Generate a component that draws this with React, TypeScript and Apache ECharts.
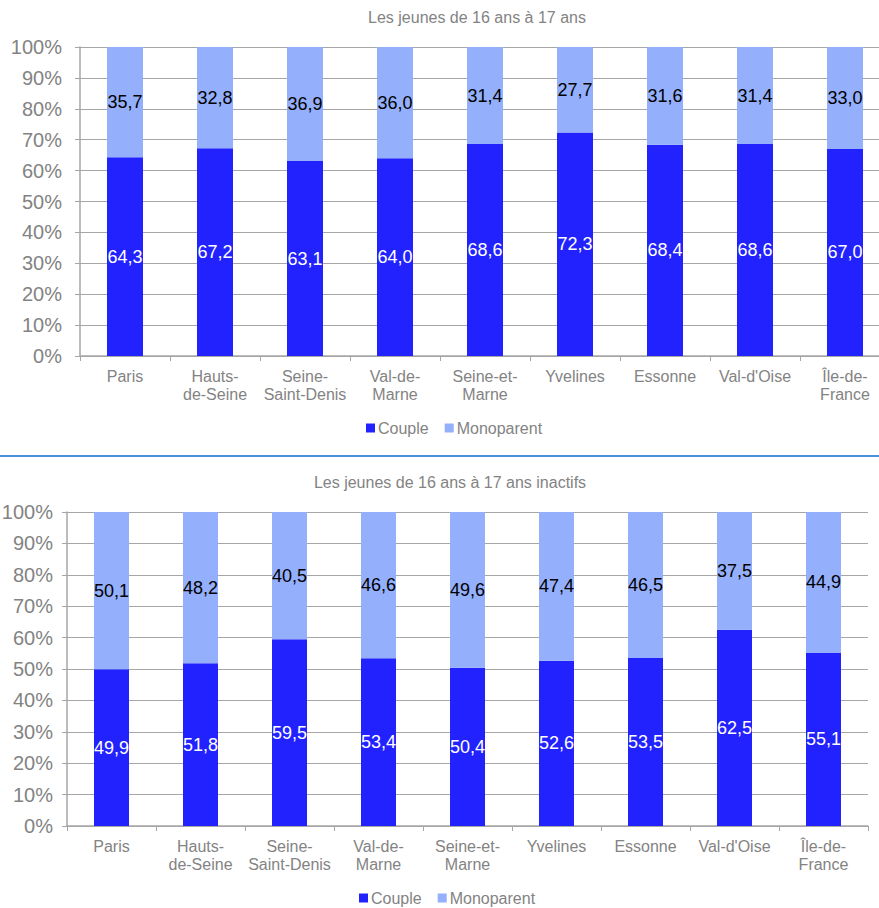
import React, { useEffect, useRef } from "react";
import * as echarts from "echarts";

const categories = [
  "Paris",
  "Hauts-\nde-Seine",
  "Seine-\nSaint-Denis",
  "Val-de-\nMarne",
  "Seine-et-\nMarne",
  "Yvelines",
  "Essonne",
  "Val-d'Oise",
  "Île-de-\nFrance",
];
const seriesNames = ["Couple", "Monoparent"];
const title1 = "Les jeunes de 16 ans à 17 ans";
const title2 = "Les jeunes de 16 ans à 17 ans inactifs";
const couple1 = [64.3, 67.2, 63.1, 64.0, 68.6, 72.3, 68.4, 68.6, 67.0];
const mono1 = [35.7, 32.8, 36.9, 36.0, 31.4, 27.7, 31.6, 31.4, 33.0];
const couple2 = [49.9, 51.8, 59.5, 53.4, 50.4, 52.6, 53.5, 62.5, 55.1];
const mono2 = [50.1, 48.2, 40.5, 46.6, 49.6, 47.4, 46.5, 37.5, 44.9];

const FONT = "'Liberation Sans', Arial, sans-serif";
const DARK = "#2222ff";
const LIGHT = "#94affc";
const GRAY = "#838383";
const LINE = "#a6a6a6";

const fmt = (p: any) => Number(p.value).toFixed(1).replace(".", ",");

function xAxis(gridIndex: number) {
  return {
    type: "category",
    gridIndex,
    data: categories,
    axisLine: { lineStyle: { color: LINE, width: 1.5 } },
    axisTick: { show: true, length: 5, lineStyle: { color: LINE } },
    axisLabel: {
      color: GRAY,
      fontSize: 16,
      fontFamily: FONT,
      lineHeight: 18,
      margin: 11,
      interval: 0,
    },
    splitLine: { show: false },
  };
}

function yAxis(gridIndex: number, margin: number) {
  return {
    type: "value",
    gridIndex,
    min: 0,
    max: 100,
    interval: 10,
    axisLine: { show: true, lineStyle: { color: LINE, width: 1.5 } },
    axisTick: { show: true, length: 5, lineStyle: { color: LINE } },
    axisLabel: {
      color: GRAY,
      fontSize: 20,
      fontFamily: FONT,
      margin,
      formatter: "{value}%",
    },
    splitLine: { show: true, lineStyle: { color: LINE, width: 1 } },
  };
}

function bars(idx: number, couple: number[], mono: number[], barWidth: number) {
  return [
    {
      name: seriesNames[0],
      type: "bar",
      xAxisIndex: idx,
      yAxisIndex: idx,
      stack: "s" + idx,
      barWidth,
      data: couple,
      itemStyle: { color: DARK },
      label: {
        show: true,
        position: "inside",
        color: "#ffffff",
        fontSize: 18,
        fontFamily: FONT,
        formatter: fmt,
      },
    },
    {
      name: seriesNames[1],
      type: "bar",
      xAxisIndex: idx,
      yAxisIndex: idx,
      stack: "s" + idx,
      barWidth,
      data: mono,
      itemStyle: { color: LIGHT },
      label: {
        show: true,
        position: "inside",
        color: "#000000",
        fontSize: 18,
        fontFamily: FONT,
        formatter: fmt,
      },
    },
  ];
}

function legend(left: number, top: number) {
  return {
    data: seriesNames,
    left,
    top,
    padding: 0,
    itemWidth: 9,
    itemHeight: 9,
    itemGap: 16,
    icon: "rect",
    textStyle: { color: GRAY, fontSize: 16, fontFamily: FONT, padding: [0, 0, 0, -2] },
    selectedMode: false,
  };
}

export default function App() {
  const ref = useRef<HTMLDivElement>(null);
  useEffect(() => {
    if (!ref.current) return;
    const chart = echarts.init(ref.current, null, { renderer: "svg" });
    chart.setOption({
      animation: false,
      backgroundColor: "#ffffff",
      textStyle: { fontFamily: FONT },
      grid: [
        { left: 80, top: 47, width: 810, height: 309, containLabel: false, outerBoundsMode: "none" },
        { left: 67, top: 512, width: 801, height: 314, containLabel: false, outerBoundsMode: "none" },
      ],
      xAxis: [xAxis(0), xAxis(1)],
      yAxis: [yAxis(0, 18), yAxis(1, 14)],
      legend: [legend(366, 420), legend(359, 890)],
      series: [...bars(0, couple1, mono1, 36), ...bars(1, couple2, mono2, 35)],
      graphic: [
        {
          type: "text",
          x: 477,
          y: 17,
          style: {
            text: title1,
            fill: GRAY,
            fontSize: 16,
            fontFamily: FONT,
            textAlign: "center",
            textVerticalAlign: "middle",
          },
        },
        {
          type: "text",
          x: 450,
          y: 482,
          style: {
            text: title2,
            fill: GRAY,
            fontSize: 16,
            fontFamily: FONT,
            textAlign: "center",
            textVerticalAlign: "middle",
          },
        },
        {
          type: "line",
          shape: { x1: 0, y1: 456, x2: 879, y2: 456 },
          style: { stroke: "#4a8fd9", lineWidth: 2 },
        },
      ],
    });
    return () => chart.dispose();
  }, []);
  return (
    <div
      ref={ref}
      style={{ position: "absolute", left: 0, top: 0, width: 879, height: 908, overflow: "hidden" }}
    />
  );
}
